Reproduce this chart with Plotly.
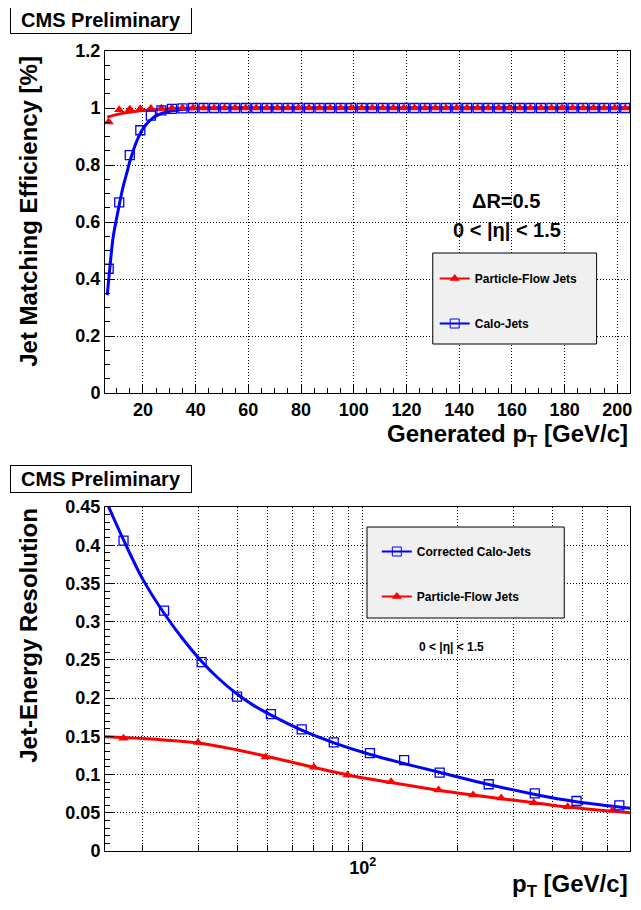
import plotly.graph_objects as go

# The page body has an 8px margin and the last ~8px on the right are not visible,
# so the figure is sized/shifted to compensate.
OFF = 8
W, H = 641 - 2 * OFF, 910 - 2 * OFF
ML, MR, MT = 105 - OFF, 1, 51 - OFF
MB = H - (851 - OFF)
PW = W - ML - MR
PH = H - MT - MB
REF_PW = 535  # plot width in the reference


def px_abs(x):
    """reference-screen x pixel (left of the plot) -> paper fraction"""
    return (x - OFF - ML) / PW


def px(x):
    """reference-screen x pixel inside the plot -> paper fraction (relative)"""
    return (x - 105) / REF_PW


def py(y):
    """reference-screen y pixel -> paper fraction"""
    return (H - MB - (y - OFF)) / PH


# ---------------- top panel: jet matching efficiency ----------------
eff_pt = [7, 11, 15, 19, 23, 27, 31, 35, 39, 43, 47, 51, 55, 59, 63, 67, 71, 75,
          79, 83, 87, 91, 95, 99, 103, 107, 111, 115, 119, 123, 127, 131, 135,
          139, 143, 147, 151, 155, 159, 163, 167, 171, 175, 179, 183, 187, 191,
          195, 199, 203]
calo_eff = [0.436, 0.669, 0.835, 0.922, 0.973, 0.992, 0.997, 0.999, 1.0, 1.0,
            1.0, 1.0, 1.0, 1.0, 1.0, 1.0, 1.0, 1.0, 1.0, 1.0, 1.0, 1.0, 1.0, 1.0,
            1.0, 1.0, 1.0, 1.0, 1.0, 1.0, 1.0, 1.0, 1.0, 1.0, 1.0, 1.0, 1.0, 1.0,
            1.0, 1.0, 1.0, 1.0, 1.0, 1.0, 1.0, 1.0, 1.0, 1.0, 1.0, 1.0]
pf_eff = [0.951, 0.994, 0.996, 0.997, 0.998, 0.999, 1.0, 1.0, 1.0, 1.0, 1.0, 1.0,
          1.0, 1.0, 1.0, 1.0, 1.0, 1.0, 1.0, 1.0, 1.0, 1.0, 1.0, 1.0, 1.0, 1.0,
          1.0, 1.0, 1.0, 1.0, 1.0, 1.0, 1.0, 1.0, 1.0, 1.0, 1.0, 1.0, 1.0, 1.0,
          1.0, 1.0, 1.0, 1.0, 1.0, 1.0, 1.0, 1.0, 1.0, 1.0]

calo_eff_fit_pt = [6.44, 7.08, 7.71, 8.68, 9.94, 11.17, 12.4, 13.67, 15.27, 17.4,
                   19.26, 21.1, 23.35, 25.4, 27.3, 31.0, 35.4, 39.7, 50, 204.8]
calo_eff_fit = [0.343, 0.405, 0.465, 0.546, 0.610, 0.668, 0.721, 0.765, 0.820,
                0.878, 0.916, 0.941, 0.962, 0.974, 0.982, 0.990, 0.996, 0.998,
                1.0, 1.0]
pf_eff_fit_pt = [6.44, 12.4, 18.6, 24.8, 32.2, 39.7, 204.8]
pf_eff_fit = [0.968, 0.982, 0.990, 0.995, 0.998, 1.0, 1.0]

# ---------------- bottom panel: jet energy resolution ----------------
calo_res_pt = [17.4, 23.4, 30.8, 39.9, 51.1, 64.0, 80.9, 105.4, 135.3, 175.4,
               251, 351.6, 477, 652]
calo_res = [0.406, 0.3145, 0.247, 0.202, 0.179, 0.159, 0.142, 0.128, 0.119,
            0.1025, 0.0873, 0.0755, 0.0654, 0.0598]
pf_res_pt = [17.4, 30, 49.2, 70, 89.5, 123, 174, 224, 275, 349, 447, 622]
pf_res = [0.1475, 0.142, 0.123, 0.1096, 0.0995, 0.0907, 0.0798, 0.0733, 0.0694,
          0.0632, 0.058, 0.0537]

calo_res_fit_pt = [15.5, 17.4, 20, 23.4, 27, 30.8, 35, 40, 45, 51, 64, 81, 105,
                   135, 175, 251, 352, 477, 705]
calo_res_fit = [0.453, 0.407, 0.356, 0.311, 0.276, 0.248, 0.225, 0.205, 0.1905,
                0.178, 0.158, 0.1415, 0.1265, 0.1145, 0.103, 0.087, 0.074,
                0.0645, 0.056]
pf_res_fit_pt = [15.2, 20, 30, 40, 50, 61, 70, 89.5, 123, 174, 224, 275, 349,
                 447, 705]
pf_res_fit = [0.1496, 0.1472, 0.1412, 0.1322, 0.1234, 0.1152, 0.1094, 0.0995,
              0.0895, 0.0795, 0.0732, 0.0685, 0.0632, 0.0575, 0.0500]

res_major_ticks = [100]
res_major_labels = ["10<sup>2</sup>"]
res_minor_ticks = [20, 30, 40, 50, 60, 70, 80, 90, 200, 300, 400, 500, 600]

RED = "#ff0000"
BLUE = "#0000ff"
FONT = "Liberation Sans, Arial, Helvetica, sans-serif"
GRIDDASH = "1px,2px"

fig = go.Figure()

# top panel traces
fig.add_trace(go.Scatter(x=pf_eff_fit_pt, y=pf_eff_fit, mode="lines",
                         line=dict(color=RED, width=3, shape="spline"),
                         showlegend=False, xaxis="x", yaxis="y"))
fig.add_trace(go.Scatter(x=calo_eff_fit_pt, y=calo_eff_fit, mode="lines",
                         line=dict(color=BLUE, width=3, shape="spline"),
                         showlegend=False, xaxis="x", yaxis="y"))
fig.add_trace(go.Scatter(x=eff_pt, y=pf_eff, mode="markers",
                         marker=dict(symbol="triangle-up", size=9, color=RED),
                         showlegend=False, xaxis="x", yaxis="y"))
fig.add_trace(go.Scatter(x=eff_pt, y=calo_eff, mode="markers",
                         marker=dict(symbol="square-open", size=9, color=BLUE,
                                     line=dict(width=1.3, color=BLUE)),
                         showlegend=False, xaxis="x", yaxis="y"))

# bottom panel traces
fig.add_trace(go.Scatter(x=pf_res_fit_pt, y=pf_res_fit, mode="lines",
                         line=dict(color=RED, width=3, shape="spline"),
                         showlegend=False, xaxis="x2", yaxis="y2"))
fig.add_trace(go.Scatter(x=calo_res_fit_pt, y=calo_res_fit, mode="lines",
                         line=dict(color=BLUE, width=3, shape="spline"),
                         showlegend=False, xaxis="x2", yaxis="y2"))
fig.add_trace(go.Scatter(x=pf_res_pt, y=pf_res, mode="markers",
                         marker=dict(symbol="triangle-up", size=9, color=RED),
                         showlegend=False, xaxis="x2", yaxis="y2"))
fig.add_trace(go.Scatter(x=calo_res_pt, y=calo_res, mode="markers",
                         marker=dict(symbol="square-open", size=9, color=BLUE,
                                     line=dict(width=1.3, color=BLUE)),
                         showlegend=False, xaxis="x2", yaxis="y2"))

# legend entries (line + marker samples)
fig.add_trace(go.Scatter(x=[None], y=[None], mode="lines+markers", name="Particle-Flow Jets",
                         line=dict(color=RED, width=2),
                         marker=dict(symbol="triangle-up", size=9, color=RED),
                         legend="legend", legendgroup="a", xaxis="x", yaxis="y"))
fig.add_trace(go.Scatter(x=[None], y=[None], mode="lines+markers", name="Calo-Jets",
                         line=dict(color=BLUE, width=2),
                         marker=dict(symbol="square-open", size=9, color=BLUE),
                         legend="legend", legendgroup="b", xaxis="x", yaxis="y"))
fig.add_trace(go.Scatter(x=[None], y=[None], mode="lines+markers", name="Corrected Calo-Jets",
                         line=dict(color=BLUE, width=2),
                         marker=dict(symbol="square-open", size=9, color=BLUE),
                         legend="legend2", legendgroup="c", xaxis="x2", yaxis="y2"))
fig.add_trace(go.Scatter(x=[None], y=[None], mode="lines+markers", name="Particle-Flow Jets",
                         line=dict(color=RED, width=2),
                         marker=dict(symbol="triangle-up", size=9, color=RED),
                         legend="legend2", legendgroup="d", xaxis="x2", yaxis="y2"))

axis_common = dict(showline=True, linecolor="black", linewidth=1, mirror=True,
                   ticks="inside", tickcolor="black", ticklen=9, tickwidth=1,
                   showgrid=True, gridcolor="black", gridwidth=1, griddash=GRIDDASH,
                   zeroline=False, ticklabeloverflow="allow",
                   tickfont=dict(size=18, color="black", family=FONT, weight="bold"))

fig.update_layout(
    width=W, height=H,
    margin=dict(l=ML, r=MR, t=MT, b=MB),
    paper_bgcolor="white", plot_bgcolor="white",
    font=dict(family=FONT, color="black", weight="bold"),
    xaxis=dict(domain=[0, 1], anchor="y", range=[5.6, 204.8], dtick=20, tick0=0,
               minor=dict(ticks="inside", ticklen=5, tickcolor="black", dtick=5, showgrid=False),
               **axis_common),
    yaxis=dict(domain=[py(393), 1], anchor="x", range=[0, 1.2], dtick=0.2, tick0=0,
               minor=dict(ticks="inside", ticklen=5, tickcolor="black", dtick=0.05, showgrid=False),
               **axis_common),
    xaxis2=dict(domain=[0, 1], anchor="y2", type="log", range=[1.1818, 2.8482],
                tickmode="array", tickvals=res_major_ticks, ticktext=res_major_labels,
                minor=dict(tickmode="array", tickvals=res_minor_ticks, ticks="inside",
                           ticklen=6, tickcolor="black", showgrid=True,
                           gridcolor="black", gridwidth=1, griddash=GRIDDASH),
                **axis_common),
    yaxis2=dict(domain=[0, py(507)], anchor="x2", range=[0, 0.45], dtick=0.05, tick0=0,
                minor=dict(ticks="inside", ticklen=5, tickcolor="black", dtick=0.01, showgrid=False),
                **axis_common),
    legend=dict(x=px(441), y=py(264), xanchor="left", yanchor="top",
                bgcolor="rgba(0,0,0,0)", borderwidth=0, tracegroupgap=26,
                traceorder="grouped", itemwidth=30,
                font=dict(size=12, family=FONT, color="black", weight="bold")),
    legend2=dict(x=px(382), y=py(537), xanchor="left", yanchor="top",
                 bgcolor="rgba(0,0,0,0)", borderwidth=0, tracegroupgap=26,
                 traceorder="grouped", itemwidth=30,
                 font=dict(size=12, family=FONT, color="black", weight="bold")),
    shapes=[
        dict(type="rect", xref="paper", yref="paper", x0=px(439), x1=px(606),
             y0=py(344), y1=py(253), fillcolor="#f0f0f0", line=dict(color="black", width=1),
             layer="above"),
        dict(type="rect", xref="paper", yref="paper", x0=px(372), x1=px(573),
             y0=py(618), y1=py(527), fillcolor="#f0f0f0", line=dict(color="black", width=1),
             layer="above"),
    ],
)

ann = []
# CMS Preliminary labels
for ytop in (6, 465):
    ann.append(dict(text="CMS Preliminary", xref="paper", yref="paper",
                    x=px_abs(10), y=py(ytop), xanchor="left", yanchor="top",
                    showarrow=False, width=180, height=26, borderpad=0,
                    bordercolor="black", borderwidth=1, bgcolor="white",
                    font=dict(size=20, family=FONT, color="black", weight="bold")))
# axis titles
ann.append(dict(text="Jet Matching Efficiency [%]", xref="paper", yref="paper",
                x=px_abs(28), y=py(54), xanchor="center", yanchor="top", textangle=-90,
                showarrow=False, font=dict(size=24, family=FONT, weight="bold")))
ann.append(dict(text="Jet-Energy Resolution", xref="paper", yref="paper",
                x=px_abs(28), y=py(506), xanchor="center", yanchor="top", textangle=-90,
                showarrow=False, font=dict(size=24, family=FONT, weight="bold")))
ann.append(dict(text="Generated p<sub>T</sub> [GeV/c]", xref="paper", yref="paper",
                x=1.0, y=py(436), xanchor="right", yanchor="middle",
                showarrow=False, font=dict(size=24, family=FONT, weight="bold")))
ann.append(dict(text="p<sub>T</sub> [GeV/c]", xref="paper", yref="paper",
                x=1.0, y=py(885), xanchor="right", yanchor="middle",
                showarrow=False, font=dict(size=24, family=FONT, weight="bold")))
# region labels
ann.append(dict(text="ΔR=0.5", xref="paper", yref="paper", x=px(514), y=py(201),
                xanchor="center", yanchor="middle", showarrow=False,
                font=dict(size=20, family=FONT, weight="bold")))
ann.append(dict(text="0 < |η| < 1.5", xref="paper", yref="paper", x=px(515), y=py(230),
                xanchor="center", yanchor="middle", showarrow=False,
                font=dict(size=20, family=FONT, weight="bold")))
ann.append(dict(text="0 < |η| < 1.5", xref="paper", yref="paper", x=px(458), y=py(647),
                xanchor="center", yanchor="middle", showarrow=False,
                font=dict(size=12, family=FONT, weight="bold")))
fig.update_layout(annotations=ann)

fig.write_html("out.html")
